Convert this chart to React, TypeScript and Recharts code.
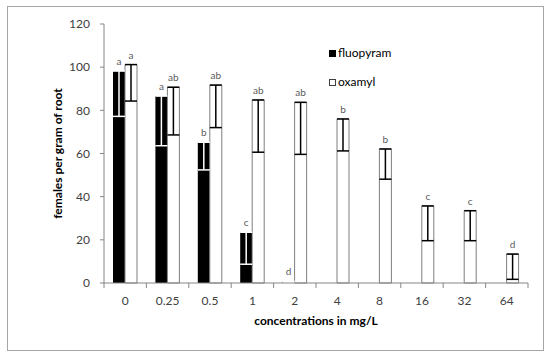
import React from 'react';
import { BarChart, Bar, XAxis, YAxis, ErrorBar, LabelList, Label } from 'recharts';

const categories = ['0', '0.25', '0.5', '1', '2', '4', '8', '16', '32', '64'];
const fluopyram: (number | null)[] = [98.2, 86.6, 65.2, 23.5, 0.8, null, null, null, null, null];
const fluopyramLow: (number | null)[] = [77.2, 63.6, 52.4, 8.7, 0.3, null, null, null, null, null];
const fluopyramLetters: (string | null)[] = ['a', 'a', 'b', 'c', 'd', null, null, null, null, null];
const oxamyl = [101.2, 90.7, 91.7, 84.8, 83.7, 76.0, 62.1, 35.7, 33.5, 13.4];
const oxamylLow = [84.3, 68.6, 72.0, 60.6, 59.6, 61.2, 48.1, 19.6, 19.6, 1.7];
const oxamylLetters = ['a', 'ab', 'ab', 'ab', 'ab', 'b', 'b', 'c', 'c', 'd'];
const yTicks = [0, 20, 40, 60, 80, 100, 120];

const data = categories.map((name, i) => {
  const f = fluopyram[i];
  const fl = fluopyramLow[i];
  return {
    name,
    fluopyram: f,
    fErr: f != null && fl != null ? [f - fl, 0] : undefined,
    fLetter: fluopyramLetters[i] ?? '',
    oxamyl: oxamyl[i],
    oErr: [oxamyl[i] - oxamylLow[i], 0],
    oLetter: oxamylLetters[i],
  };
});

const FONT = 'Lato, "Open Sans", sans-serif';
const AXIS = '#868686';

const CategoryTick = (props: any) => {
  const { x, y, payload, index } = props;
  const half = payload && payload.offset ? payload.offset : 0;
  const axisY = y - 13;
  const isLast = index === categories.length - 1;
  return (
    <g>
      <line x1={x - half} x2={x - half} y1={axisY} y2={axisY + 5} stroke={AXIS} />
      {isLast && <line x1={x + half} x2={x + half} y1={axisY} y2={axisY + 5} stroke={AXIS} />}
      <text x={x} y={y} dy="0.75em" textAnchor="middle" fill="#404040" fontSize={12} fontFamily={FONT}>
        {payload.value}
      </text>
    </g>
  );
};

const ValueTick = (props: any) => {
  const { x, y, payload } = props;
  return (
    <g>
      <line x1={x} x2={x + 4} y1={y} y2={y} stroke={AXIS} />
      <text x={x - 10} y={y} dy="0.36em" textAnchor="end" fill="#404040" fontSize={12} fontFamily={FONT}>
        {payload.value}
      </text>
    </g>
  );
};

export default function App() {
  return (
    <div style={{ position: 'absolute', left: 0, top: 0, width: 550, height: 354, background: '#fff', fontFamily: FONT, overflow: 'hidden' }}>
      <BarChart
        width={550}
        height={354}
        data={data}
        margin={{ top: 24, right: 22, left: 14, bottom: 27 }}
        barGap={0}
        barSize={12}
      >
        <XAxis
          dataKey="name"
          height={44}
          axisLine={{ stroke: AXIS }}
          tickLine={false}
          tickSize={0}
          tickMargin={13}
          interval={0}
          tick={<CategoryTick />}
        >
          <Label
            value="concentrations in mg/L"
            position="insideBottom"
            offset={2}
            style={{ fontWeight: 'bold', fontSize: 12, fill: '#000', fontFamily: FONT }}
          />
        </XAxis>
        <YAxis
          width={90}
          domain={[0, 120]}
          ticks={yTicks}
          axisLine={{ stroke: AXIS }}
          tickLine={false}
          tickSize={4}
          tickMargin={0}
          tick={<ValueTick />}
          label={{
            value: 'females per gram of root',
            angle: -90,
            position: 'insideLeft',
            offset: 44,
            style: { textAnchor: 'middle', fontWeight: 'bold', fontSize: 12, fill: '#000', fontFamily: FONT },
          }}
        />
        <Bar dataKey="fluopyram" fill="#000" isAnimationActive={false}>
          <ErrorBar dataKey="fErr" width={6} stroke="#fff" strokeWidth={1.5} direction="y" />
          <LabelList dataKey="fLetter" position="top" offset={6} style={{ fill: '#595959', fontSize: 10, fontFamily: FONT }} />
        </Bar>
        <Bar dataKey="oxamyl" fill="#fff" stroke="#7f7f7f" strokeWidth={1} isAnimationActive={false}>
          <ErrorBar dataKey="oErr" width={6} stroke="#000" strokeWidth={1.5} direction="y" />
          <LabelList dataKey="oLetter" position="top" offset={6} style={{ fill: '#595959', fontSize: 10, fontFamily: FONT }} />
        </Bar>
      </BarChart>
      <div style={{ position: 'absolute', left: 7, top: 6, width: 535, height: 343, border: '1px solid #a6a6a6', pointerEvents: 'none' }} />
      <div style={{ position: 'absolute', left: 329, top: 46, fontSize: 12, color: '#000', lineHeight: '14px' }}>
        <div style={{ display: 'flex', alignItems: 'center' }}>
          <span style={{ display: 'inline-block', width: 7, height: 7, background: '#000', marginRight: 2 }} />
          <span>fluopyram</span>
        </div>
        <div style={{ display: 'flex', alignItems: 'center', marginTop: 15 }}>
          <span style={{ display: 'inline-block', width: 7, height: 7, background: '#fff', border: '1px solid #404040', marginRight: 2, boxSizing: 'border-box' }} />
          <span>oxamyl</span>
        </div>
      </div>
    </div>
  );
}
